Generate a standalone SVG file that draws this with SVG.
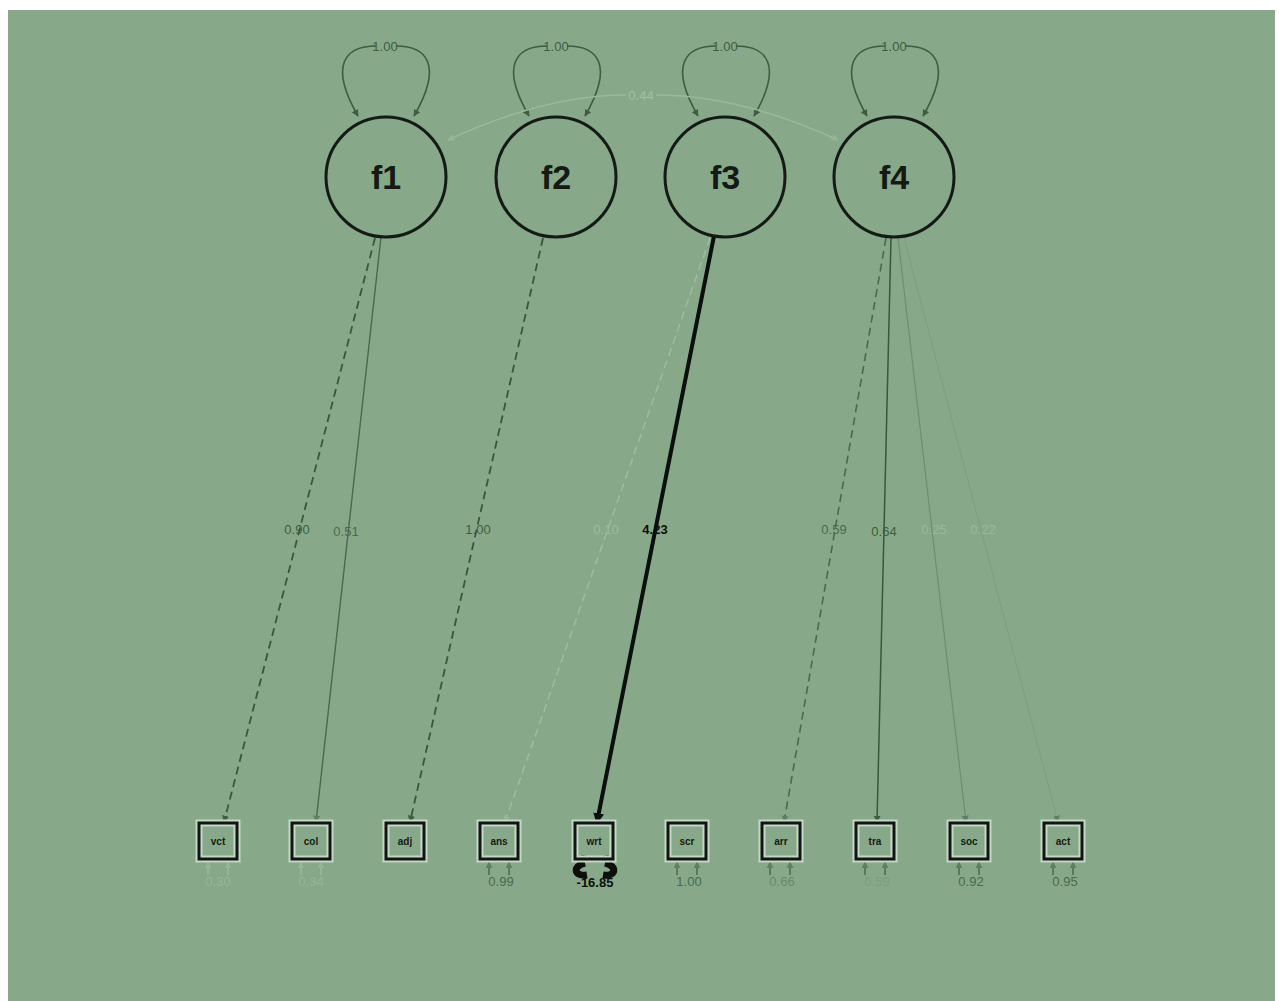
<svg xmlns="http://www.w3.org/2000/svg" width="1279" height="1001" viewBox="0 0 1279 1001">
  <style>
    .lat ellipse { fill: none; stroke: #141a14; stroke-width: 3; }
    .lat text { font-family: "Liberation Sans", Arial, sans-serif; font-size: 34px; font-weight: bold; fill: #141a14; text-anchor: middle; }
    .obs .halo { fill: none; stroke: #c4d8c5; stroke-width: 7; }
    .obs .box { fill: none; stroke: #121612; stroke-width: 3; }
    .obs text { font-family: "Liberation Sans", Arial, sans-serif; font-size: 10px; font-weight: bold; fill: #151a15; text-anchor: middle; }
    .lbl { font-family: "Liberation Sans", Arial, sans-serif; font-size: 13px; text-anchor: middle; }
    .var { fill: none; stroke: #3e5d42; stroke-width: 1.6; }
    .res { fill: none; stroke-width: 1.6; }
  </style>
  <defs>
    <marker id="ahD" viewBox="0 0 10 10" refX="9" refY="5" markerWidth="7" markerHeight="7" orient="auto-start-reverse" markerUnits="userSpaceOnUse">
      <path d="M0 0 L10 5 L0 10 Z" fill="#3e5d42"/>
    </marker>
    <marker id="ahM" viewBox="0 0 10 10" refX="9" refY="5" markerWidth="7" markerHeight="7" orient="auto-start-reverse" markerUnits="userSpaceOnUse">
      <path d="M0 0 L10 5 L0 10 Z" fill="#5f7f62"/>
    </marker>
    <marker id="ahF" viewBox="0 0 10 10" refX="9" refY="5" markerWidth="7" markerHeight="7" orient="auto-start-reverse" markerUnits="userSpaceOnUse">
      <path d="M0 0 L10 5 L0 10 Z" fill="#97b59a"/>
    </marker>
    <marker id="ahK" viewBox="0 0 10 10" refX="8" refY="5" markerWidth="11" markerHeight="11" orient="auto-start-reverse" markerUnits="userSpaceOnUse">
      <path d="M0 0 L10 5 L0 10 Z" fill="#0c0f0c"/>
    </marker>
  </defs>

  <!-- canvas -->
  <rect x="0" y="0" width="1279" height="1001" fill="#ffffff"/>
  <rect x="8" y="10" width="1267" height="991" fill="#87a98a"/>

  <g id="connectors">
    <!-- latent variances -->
    <path class="var" d="M358 116 C328 64 346 46 376 46" marker-start="url(#ahD)"/>
    <path class="var" d="M414 116 C444 64 426 46 396 46" marker-start="url(#ahD)"/>
    <path class="var" d="M529 116 C499 64 517 46 547 46" marker-start="url(#ahD)"/>
    <path class="var" d="M585 116 C615 64 597 46 567 46" marker-start="url(#ahD)"/>
    <path class="var" d="M698 116 C668 64 686 46 716 46" marker-start="url(#ahD)"/>
    <path class="var" d="M754 116 C784 64 766 46 736 46" marker-start="url(#ahD)"/>
    <path class="var" d="M867 116 C837 64 855 46 885 46" marker-start="url(#ahD)"/>
    <path class="var" d="M923 116 C953 64 935 46 905 46" marker-start="url(#ahD)"/>
    <text class="lbl" x="385" y="51" font-size="12" fill="#3e5d42">1.00</text>
    <text class="lbl" x="556" y="51" font-size="12" fill="#3e5d42">1.00</text>
    <text class="lbl" x="725" y="51" font-size="12" fill="#3e5d42">1.00</text>
    <text class="lbl" x="894" y="51" font-size="12" fill="#3e5d42">1.00</text>

    <!-- covariance f1-f4 -->
    <path d="M448 140 Q545 95 626 95" fill="none" stroke="#9ab99d" stroke-width="1.4" marker-start="url(#ahF)"/>
    <path d="M838 140 Q740 95 656 95" fill="none" stroke="#9ab99d" stroke-width="1.4" marker-start="url(#ahF)"/>
    <text class="lbl" x="641" y="100" font-size="12" fill="#a3c0a6">0.44</text>

    <!-- loadings -->
    <line x1="375" y1="238" x2="224" y2="822" stroke="#3a573d" stroke-width="1.8" stroke-dasharray="8 5" marker-end="url(#ahD)"/>
    <line x1="381" y1="237" x2="316" y2="822" stroke="#4a6a4d" stroke-width="1.4" marker-end="url(#ahM)"/>
    <line x1="543" y1="238" x2="410" y2="822" stroke="#3a573d" stroke-width="1.8" stroke-dasharray="8 5" marker-end="url(#ahD)"/>
    <line x1="710" y1="238" x2="505" y2="822" stroke="#a0bea3" stroke-width="1.4" stroke-dasharray="8 5" marker-end="url(#ahF)"/>
    <line x1="714" y1="236" x2="597" y2="822" stroke="#0c0f0c" stroke-width="4" marker-end="url(#ahK)"/>
    <line x1="886" y1="238" x2="784" y2="822" stroke="#4a6a4d" stroke-width="1.6" stroke-dasharray="8 5" marker-end="url(#ahM)"/>
    <line x1="891" y1="238" x2="877" y2="822" stroke="#3a573d" stroke-width="1.5" marker-end="url(#ahD)"/>
    <line x1="898" y1="238" x2="966" y2="822" stroke="#6e8e71" stroke-width="1.2" marker-end="url(#ahM)"/>
    <line x1="904" y1="238" x2="1058" y2="822" stroke="#7f9f82" stroke-width="1.1" marker-end="url(#ahM)"/>

    <text class="lbl" x="297" y="534" fill="#3e5d42">0.90</text>
    <text class="lbl" x="346" y="536" fill="#4a6a4d">0.51</text>
    <text class="lbl" x="478" y="534" fill="#3e5d42">1.00</text>
    <text class="lbl" x="606" y="534" fill="#9dbba0">0.10</text>
    <text class="lbl" x="655" y="534" fill="#0c0f0c" font-weight="bold">4.23</text>
    <text class="lbl" x="834" y="534" fill="#4a6a4d">0.59</text>
    <text class="lbl" x="884" y="536" fill="#3e5d42">0.64</text>
    <text class="lbl" x="934" y="534" fill="#9ab99d">0.25</text>
    <text class="lbl" x="983" y="534" fill="#9ab99d">0.22</text>

    <!-- residual variances -->
    <g class="res" stroke="#9ab99d">
      <line x1="208" y1="875" x2="208" y2="862" marker-end="url(#ahF)"/>
      <line x1="228" y1="875" x2="228" y2="862" marker-end="url(#ahF)"/>
      <line x1="301" y1="875" x2="301" y2="862" marker-end="url(#ahF)"/>
      <line x1="321" y1="875" x2="321" y2="862" marker-end="url(#ahF)"/>
    </g>
    <g class="res" stroke="#4f6f52">
      <line x1="489" y1="875" x2="489" y2="862" marker-end="url(#ahM)"/>
      <line x1="509" y1="875" x2="509" y2="862" marker-end="url(#ahM)"/>
      <line x1="677" y1="875" x2="677" y2="862" marker-end="url(#ahM)"/>
      <line x1="697" y1="875" x2="697" y2="862" marker-end="url(#ahM)"/>
      <line x1="770" y1="875" x2="770" y2="862" marker-end="url(#ahM)"/>
      <line x1="790" y1="875" x2="790" y2="862" marker-end="url(#ahM)"/>
      <line x1="865" y1="875" x2="865" y2="862" marker-end="url(#ahM)"/>
      <line x1="885" y1="875" x2="885" y2="862" marker-end="url(#ahM)"/>
      <line x1="959" y1="875" x2="959" y2="862" marker-end="url(#ahM)"/>
      <line x1="979" y1="875" x2="979" y2="862" marker-end="url(#ahM)"/>
      <line x1="1053" y1="875" x2="1053" y2="862" marker-end="url(#ahM)"/>
      <line x1="1073" y1="875" x2="1073" y2="862" marker-end="url(#ahM)"/>
    </g>
    <!-- heavy residual loop under wrt -->
    <path d="M585 863 C572 866 574 877 587 875 M605 863 C618 866 616 877 603 875" fill="none" stroke="#0c0f0c" stroke-width="7"/>
    <path d="M586 862 L581 855 L592 857 Z M604 862 L609 855 L598 857 Z" fill="#0c0f0c"/>

    <text class="lbl" x="218" y="886" fill="#97b59a">0.30</text>
    <text class="lbl" x="311" y="886" fill="#97b59a">0.34</text>
    <text class="lbl" x="501" y="886" fill="#4a6a4d">0.99</text>
    <text class="lbl" x="595" y="887" fill="#0c0f0c" font-weight="bold">-16.85</text>
    <text class="lbl" x="689" y="886" fill="#4a6a4d">1.00</text>
    <text class="lbl" x="782" y="886" fill="#6a8a6d">0.66</text>
    <text class="lbl" x="877" y="886" fill="#7d9d80">0.59</text>
    <text class="lbl" x="971" y="886" fill="#4a6a4d">0.92</text>
    <text class="lbl" x="1065" y="886" fill="#4a6a4d">0.95</text>
  </g>

  <!-- latent factors -->
  <g id="f1" class="lat"><ellipse cx="386" cy="177" rx="60" ry="60"/><text x="386" y="189">f1</text></g>
  <g id="f2" class="lat"><ellipse cx="556" cy="177" rx="60" ry="60"/><text x="556" y="189">f2</text></g>
  <g id="f3" class="lat"><ellipse cx="725" cy="177" rx="60" ry="60"/><text x="725" y="189">f3</text></g>
  <g id="f4" class="lat"><ellipse cx="894" cy="177" rx="60" ry="60"/><text x="894" y="189">f4</text></g>

  <!-- observed indicators -->
  <g id="vct" class="obs"><rect class="halo" x="199" y="823" width="38" height="36"/><rect class="box" x="199" y="823" width="38" height="36"/><text x="218" y="845">vct</text></g>
  <g id="col" class="obs"><rect class="halo" x="292" y="823" width="38" height="36"/><rect class="box" x="292" y="823" width="38" height="36"/><text x="311" y="845">col</text></g>
  <g id="adj" class="obs"><rect class="halo" x="386" y="823" width="38" height="36"/><rect class="box" x="386" y="823" width="38" height="36"/><text x="405" y="845">adj</text></g>
  <g id="ans" class="obs"><rect class="halo" x="480" y="823" width="38" height="36"/><rect class="box" x="480" y="823" width="38" height="36"/><text x="499" y="845">ans</text></g>
  <g id="wrt" class="obs"><rect class="halo" x="575" y="823" width="38" height="36"/><rect class="box" x="575" y="823" width="38" height="36"/><text x="594" y="845">wrt</text></g>
  <g id="scr" class="obs"><rect class="halo" x="668" y="823" width="38" height="36"/><rect class="box" x="668" y="823" width="38" height="36"/><text x="687" y="845">scr</text></g>
  <g id="arr" class="obs"><rect class="halo" x="762" y="823" width="38" height="36"/><rect class="box" x="762" y="823" width="38" height="36"/><text x="781" y="845">arr</text></g>
  <g id="tra" class="obs"><rect class="halo" x="856" y="823" width="38" height="36"/><rect class="box" x="856" y="823" width="38" height="36"/><text x="875" y="845">tra</text></g>
  <g id="soc" class="obs"><rect class="halo" x="950" y="823" width="38" height="36"/><rect class="box" x="950" y="823" width="38" height="36"/><text x="969" y="845">soc</text></g>
  <g id="act" class="obs"><rect class="halo" x="1044" y="823" width="38" height="36"/><rect class="box" x="1044" y="823" width="38" height="36"/><text x="1063" y="845">act</text></g>
</svg>
